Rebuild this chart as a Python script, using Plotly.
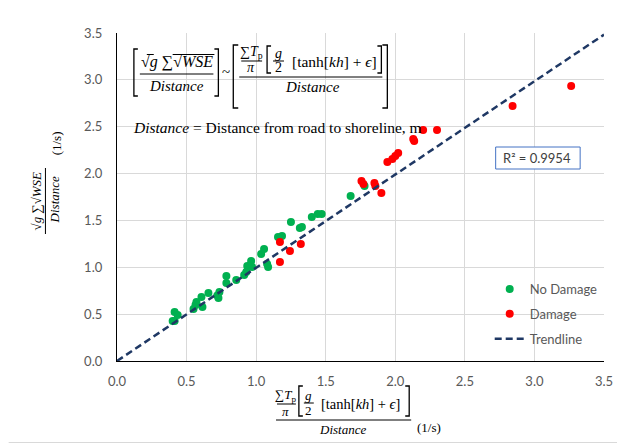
import plotly.graph_objects as go

# ---------------- data ----------------
no_damage_x = [0.400, 0.414, 0.414, 0.436, 0.550, 0.564, 0.571, 0.607, 0.614, 0.657,
               0.721, 0.729, 0.736, 0.786, 0.786, 0.857, 0.914, 0.929, 0.936, 0.964,
               0.971, 1.036, 1.057, 1.079, 1.086, 1.157, 1.186, 1.250, 1.314, 1.329,
               1.400, 1.443, 1.471, 1.679, 1.779]
no_damage_y = [0.427, 0.427, 0.523, 0.491, 0.555, 0.598, 0.630, 0.683, 0.576, 0.726,
               0.700, 0.672, 0.736, 0.907, 0.832, 0.864, 0.918, 0.950, 1.014, 1.067,
               1.003, 1.142, 1.195, 1.035, 1.003, 1.323, 1.334, 1.483, 1.419, 1.430,
               1.537, 1.569, 1.569, 1.761, 1.867]

damage_x = [1.171, 1.171, 1.243, 1.321, 1.757, 1.771, 1.850, 1.857, 1.900, 1.943,
            1.979, 2.000, 2.021, 2.129, 2.136, 2.200, 2.300, 2.843, 3.264]
damage_y = [1.056, 1.270, 1.174, 1.249, 1.921, 1.889, 1.899, 1.867, 1.793, 2.124,
            2.156, 2.188, 2.220, 2.369, 2.348, 2.465, 2.465, 2.721, 2.935]

trend_slope = 0.995
r_squared_text = "R² = 0.9954"
axis_range = [0.0, 3.5]
series_names = ["No Damage", "Damage", "Trendline"]

# ---------------- figure ----------------
# the page body has an 8px margin, so the figure is 8px smaller than the window
W, H = 617, 438
L, R, T, B = 109, 18, 25, 85
PW, PH = W - L - R, H - T - B
OFF = 8  # page offset of the figure


def px(x):  # page x -> paper
    return (x - OFF - L) / PW


def py(y):  # page y -> paper
    return (H - B - (y - OFF)) / PH


fig = go.Figure()

fig.add_trace(go.Scatter(
    x=no_damage_x, y=no_damage_y, mode="markers", name=series_names[0],
    legendgroup="g1",
    marker=dict(color="#00B050", size=8, line=dict(width=0)),
))
fig.add_trace(go.Scatter(
    x=damage_x, y=damage_y, mode="markers", name=series_names[1],
    legendgroup="g2",
    marker=dict(color="#FF0000", size=8, line=dict(width=0)),
))
trend_x = list(axis_range)
trend_y = [trend_slope * v for v in trend_x]
fig.add_trace(go.Scatter(
    x=trend_x, y=trend_y, mode="lines", name=series_names[2],
    legendgroup="g3",
    line=dict(color="#1F3864", width=2.5, dash="7px,4px"),
))

SERIF = "Liberation Serif"
annotations = []
shapes = []


def ann(text, x, y, size=15, angle=0, xanchor="center", family=SERIF, color="black"):
    annotations.append(dict(
        x=px(x), y=py(y), xref="paper", yref="paper", text=text,
        showarrow=False, xanchor=xanchor, yanchor="middle", textangle=angle,
        font=dict(family=family, size=size, color=color),
    ))


def hline(x0, x1, y, w=1.0, color="black"):
    shapes.append(dict(type="line", xref="paper", yref="paper",
                       x0=px(x0), x1=px(x1), y0=py(y), y1=py(y),
                       line=dict(color=color, width=w)))


def vline(x, y0, y1, w=1.0, color="black"):
    shapes.append(dict(type="line", xref="paper", yref="paper",
                       x0=px(x), x1=px(x), y0=py(y0), y1=py(y1),
                       line=dict(color=color, width=w)))


def bracket(x, y0, y1, foot, w=1.3):
    # foot > 0 : left bracket, foot < 0 : right bracket
    path = "M {a},{b} L {c},{b} L {c},{d} L {a},{d}".format(
        a=px(x + foot), b=py(y0), c=px(x), d=py(y1))
    shapes.append(dict(type="path", xref="paper", yref="paper", path=path,
                       line=dict(color="black", width=w)))


SP = "&nbsp;"

# ---- equation in the top-left of the plot ----
bracket(134, 49, 96, 4)
bracket(219, 49, 96, -4)
ann("√<i>g</i> ∑√<i>WSE</i>", 177, 62, size=16)
hline(147, 154, 54.5)
hline(173, 215, 54.5)
hline(140, 214, 74)
ann("<i>Distance</i>", 177, 86, size=15)
ann("~", 227, 72, size=15)

bracket(234, 45, 108, 5)
bracket(389, 45, 108, -5)
ann("∑<i>T</i><sub>p</sub>", 252, 52, size=14)
hline(242, 263, 61)
ann("<i>π</i>", 252, 68, size=14)
bracket(268, 46, 73, 4)
ann("<i>g</i>", 279, 53, size=14)
hline(274, 285, 61)
ann("2", 279, 68, size=14)
ann("[tanh[<i>kh</i>]" + SP + "+" + SP + "<i>ϵ</i>]", 336, 62, size=15.5)
bracket(383, 46, 73, -4)
hline(240, 384, 77)
ann("<i>Distance</i>", 314, 87, size=15)

ann("<i>Distance</i> = Distance from road to shoreline, m", 131, 127, size=15.5, xanchor="left")

# ---- x-axis title ----
ann("∑<i>T</i><sub>p</sub>", 287, 395, size=13)
hline(278, 297, 404)
ann("<i>π</i>", 287, 411, size=13)
bracket(300, 386, 416, 4)
ann("<i>g</i>", 310, 395, size=13)
hline(305, 315, 403)
ann("2", 310, 410, size=13)
ann("[tanh[<i>kh</i>]" + SP + "+" + SP + "<i>ϵ</i>]", 362, 404, size=14.5)
bracket(411, 386, 416, -4)
hline(277, 413, 420)
ann("<i>Distance</i>", 344, 429, size=13)
ann("(1/s)", 431, 427, size=13)

# ---- y-axis title ----
ann("√<i>g</i> ∑√<i>WSE</i>", 35, 201, size=13, angle=-90)
vline(45, 168, 234)
ann("<i>Distance</i>", 54, 200, size=13, angle=-90)
ann("(1/s)", 56, 143, size=13, angle=-90)

# ---- R² box ----
shapes.append(dict(type="rect", xref="paper", yref="paper",
                   x0=px(498), x1=px(583), y0=py(147), y1=py(169),
                   line=dict(color="#4472C4", width=1), fillcolor="white"))
ann(r_squared_text, 540, 158, size=13, family="Lato", color="#404040")

# ---- chart-area border (right and bottom edges) ----
hline(8, 621, 442.5, w=1, color="#D9D9D9")
vline(621, 8, 443, w=1, color="#D9D9D9")

axis_common = dict(
    range=axis_range, dtick=0.5, tick0=0, tickformat=".1f",
    showgrid=True, gridcolor="#D9D9D9", gridwidth=1,
    zeroline=False, ticks="", showline=True, linecolor="#000000", linewidth=1.3,
    tickfont=dict(family="Lato", size=13, color="#595959"),
    fixedrange=True,
)

fig.update_layout(
    width=W, height=H, autosize=False,
    margin=dict(l=L, r=R, t=T, b=B, pad=0),
    paper_bgcolor="white", plot_bgcolor="white",
    xaxis=dict(**axis_common, ticklabelstandoff=8),
    yaxis=dict(**axis_common, ticklabelstandoff=11),
    showlegend=True,
    legend=dict(
        x=px(492), y=py(274), xanchor="left", yanchor="top",
        bgcolor="rgba(0,0,0,0)", borderwidth=0,
        font=dict(family="Lato", size=13, color="#595959"),
        tracegroupgap=5, itemwidth=30,
    ),
    annotations=annotations,
    shapes=shapes,
)

fig.write_html("out.html")
